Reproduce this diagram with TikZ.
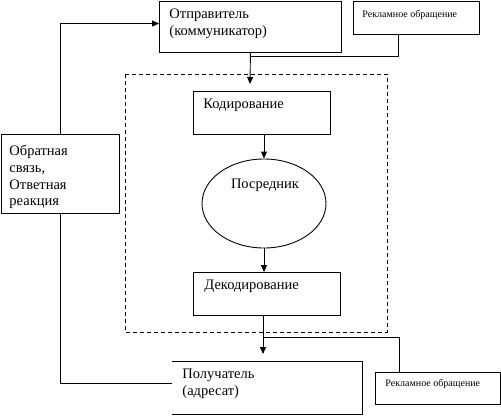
\documentclass[tikz,border=0pt]{standalone}
\usepackage{fontspec}
\setmainfont{Liberation Serif}
\usetikzlibrary{arrows.meta,calc,shapes.geometric}
\begin{document}
\begin{tikzpicture}[x=1pt,y=-1pt,line width=0.9pt,
  box/.style={draw,rectangle,inner sep=0pt,anchor=north west},
  txt/.style={inner sep=0pt,anchor=west,align=left,font=\fontsize{14.5}{17.5}\selectfont},
  small/.style={inner sep=0pt,anchor=west,font=\fontsize{10}{12}\selectfont},
  arr/.style={-{Triangle[width=6pt,length=7pt]}},
  dashbox/.style={draw,dash pattern=on 4pt off 3pt,line width=0.8pt}]
\useasboundingbox (0,0) rectangle (501,416);
% boxes
\node[box,minimum width=182pt,minimum height=51pt] (snd) at (159,0.5) {};
\node[box,minimum width=126pt,minimum height=33pt] (ad1) at (353,0.5) {};
\node[box,minimum width=137pt,minimum height=43pt] (kod) at (193,91) {};
\node[box,minimum width=147pt,minimum height=43pt] (dec) at (193,272) {};
\node[box,minimum width=118pt,minimum height=79pt] (fb) at (1,134) {};
\node[box,minimum width=125pt,minimum height=32pt] (ad2) at (375,372) {};
\node[inner sep=0pt,anchor=north west,minimum width=190pt,minimum height=53pt] (rcv) at (172,361) {};
\draw (rcv.north west) -- (rcv.north east) -- (rcv.south east) -- (rcv.south west);
\node[draw,ellipse,minimum width=124pt,minimum height=89pt,inner sep=0pt] (med) at (264,203.5) {};
\draw[dashbox] (125,74) rectangle (387,332);
% texts
\node[txt] (tsnd) at (169,24) {Отправитель\\(коммуникатор)};
\node[small] (tad1) at (362,14.5) {Рекламное обращение};
\node[txt] (tkod) at (203,105.5) {Кодирование};
\node[txt,anchor=center] (tmed) at (265,185) {Посредник};
\node[txt] (tdec) at (204,286) {Декодирование};
\node[txt,font=\fontsize{14.5}{16.8}\selectfont] (tfb) at (9,177) {Обратная\\связь,\\Ответная\\реакция};
\node[txt] (trcv) at (182,384) {Получатель\\(адресат)};
\node[small] (tad2) at (385,384) {Рекламное обращение};
% connectors
\coordinate (a1) at (250,84);
\coordinate (j1) at (250,56);
\coordinate (a2) at (263,354);
\coordinate (j2) at (263,337);
\draw[arr] (fb.north) |- ($(snd.north west)+(0,23)$);
\draw (fb.south) |- ($(rcv.north west)+(0,22)$);
\draw[arr] (snd.south) -- (a1);
\draw ($(ad1.south west)+(45,0)$) |- (j1);
\draw[arr] (kod.south -| med.north) -- (med.north);
\draw[arr] (med.south) -- (med.south |- dec.north);
\draw[arr] (dec.south -| a2) -- (a2);
\draw ($(ad2.north west)+(24,0)$) |- (j2);
\end{tikzpicture}
\end{document}
